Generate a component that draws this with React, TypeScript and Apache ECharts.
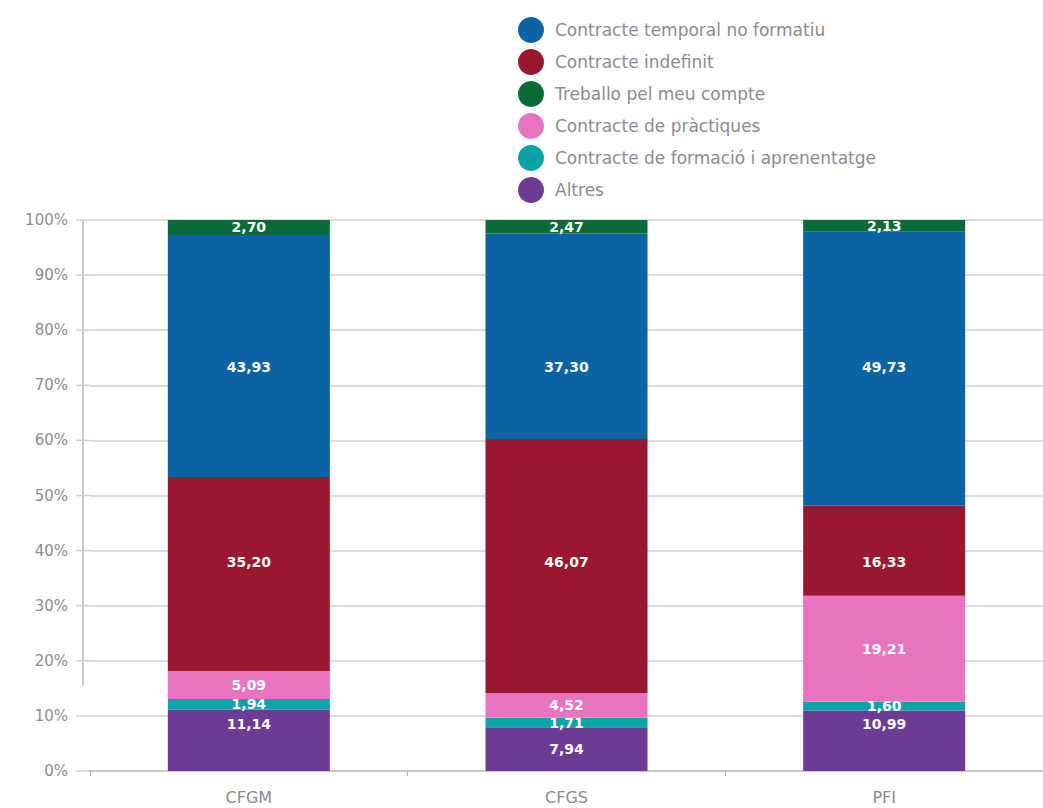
import React, { useEffect, useRef } from "react";
import * as echarts from "echarts";

const categories = ["CFGM", "CFGS", "PFI"];
const seriesNames = [
  "Altres",
  "Contracte de formació i aprenentatge",
  "Contracte de pràctiques",
  "Contracte indefinit",
  "Contracte temporal no formatiu",
  "Treballo pel meu compte",
];
const altres = [11.14, 7.94, 10.99];
const formacio = [1.94, 1.71, 1.6];
const practiques = [5.09, 4.52, 19.21];
const indefinit = [35.2, 46.07, 16.33];
const temporal = [43.93, 37.3, 49.73];
const compte = [2.7, 2.47, 2.13];
const legendOrder = [
  "Contracte temporal no formatiu",
  "Contracte indefinit",
  "Treballo pel meu compte",
  "Contracte de pràctiques",
  "Contracte de formació i aprenentatge",
  "Altres",
];
const yTicks = [0, 10, 20, 30, 40, 50, 60, 70, 80, 90, 100];
// height (in %) at which the reference places a label; null = centre of the segment
const labelLevels: (number | null)[][] = [
  [8.5, null, 8.5],
  [null, null, null],
  [null, null, null],
  [37.9, 37.9, 37.9],
  [73.3, 73.3, 73.3],
  [null, null, null],
];

const colors: Record<string, string> = {
  "Altres": "#6c3b95",
  "Contracte de formació i aprenentatge": "#0aa3a6",
  "Contracte de pràctiques": "#e874c1",
  "Contracte indefinit": "#98182f",
  "Contracte temporal no formatiu": "#0a63a5",
  "Treballo pel meu compte": "#0b6a36",
};

const FONT = "'DejaVu Sans', 'Noto Sans', sans-serif";

export default function App() {
  const ref = useRef<HTMLDivElement>(null);
  useEffect(() => {
    if (!ref.current) return;
    const chart = echarts.init(ref.current, undefined, { renderer: "svg" });
    const values = [altres, formacio, practiques, indefinit, temporal, compte];
    const labelStyle = {
      show: true,
      position: "inside",
      color: "#ffffff",
      fontSize: 14,
      fontWeight: "bold",
      fontFamily: FONT,
      formatter: (p: any) => Number(p.value).toFixed(2).replace(".", ","),
    };
    chart.setOption({
      animation: false,
      textStyle: { fontFamily: FONT },
      legend: {
        orient: "vertical",
        left: 513,
        top: 12,
        icon: "circle",
        itemWidth: 26,
        itemHeight: 26,
        itemGap: 6,
        data: legendOrder,
        textStyle: { color: "#8c8c8c", fontSize: 17, fontFamily: FONT, padding: [0, 0, 0, 6] },
      },
      grid: { left: 90, right: -6, top: 220, bottom: 37, containLabel: false },
      xAxis: {
        type: "category",
        data: categories,
        axisLine: { lineStyle: { color: "#c8c8c8", width: 2 } },
        axisTick: { show: true, alignWithLabel: false, length: 5, lineStyle: { color: "#aaa" } },
        axisLabel: { color: "#8c8c8c", fontSize: 16, margin: 18, fontFamily: FONT },
      },
      yAxis: {
        type: "value",
        min: 0,
        max: 100,
        interval: 10,
        axisLine: { show: false },
        axisTick: { show: false },
        splitLine: { lineStyle: { color: "#cfcfcf", width: 1.5 } },
        axisLabel: {
          color: "#8c8c8c",
          fontSize: 15,
          margin: 22,
          fontFamily: FONT,
          formatter: (v: number) => (yTicks.includes(v) ? v + "%" : ""),
        },
      },
      graphic: [
        {
          type: "line",
          shape: { x1: 83, y1: 220, x2: 83, y2: 686 },
          style: { stroke: "#b8b8b8", lineWidth: 1.5 },
        },
        ...yTicks.map((t) => ({
          type: "line",
          shape: { x1: 76, y1: 771 - t * 5.51, x2: 90, y2: 771 - t * 5.51 },
          style: { stroke: "#cfcfcf", lineWidth: 1.5 },
        })),
      ],
      series: seriesNames.map((name, i) => ({
        name,
        type: "bar",
        stack: "total",
        barWidth: 162,
        data: values[i],
        itemStyle: { color: colors[name] },
        label: labelStyle,
      })),
    });
    // move labels to the heights used in the reference
    const y0 = chart.convertToPixel({ yAxisIndex: 0 }, 0) as number;
    const y1 = chart.convertToPixel({ yAxisIndex: 0 }, 1) as number;
    const pxPerUnit = y0 - y1;
    chart.setOption({
      series: seriesNames.map((name, i) => ({
        name,
        data: values[i].map((v, j) => {
          const level = labelLevels[i][j];
          if (level === null) return v;
          let base = 0;
          for (let k = 0; k < i; k++) base += values[k][j];
          const centre = base + v / 2;
          return { value: v, label: { offset: [0, (centre - level) * pxPerUnit] } };
        }),
      })),
    });
    return () => chart.dispose();
  }, []);
  return (
    <div
      ref={ref}
      style={{ position: "absolute", left: 0, top: 0, width: 1043, height: 808 }}
    />
  );
}
